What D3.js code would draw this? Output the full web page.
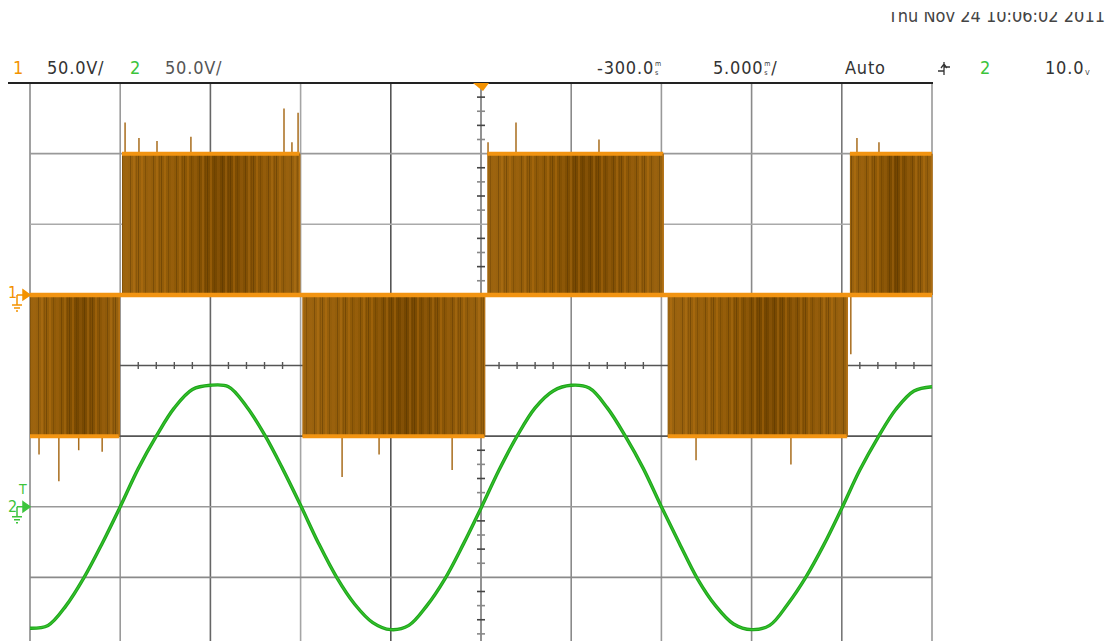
<!DOCTYPE html>
<html><head><meta charset="utf-8">
<script src="https://cdnjs.cloudflare.com/ajax/libs/d3/7.8.5/d3.min.js"></script>
<style>
html,body{margin:0;padding:0;background:#fff;}
svg{display:block;}
text{font-family:'DejaVu Sans Condensed','DejaVu Sans',sans-serif;}
</style></head>
<body><svg id="c" width="1107" height="641"></svg>
<script>
// ---- data (time in ms relative to screen centre, volts) ----
const timeDivTicks = [-25,-20,-15,-10,-5,0,5,10,15,20,25];
const voltDivTicks = [-4,-3,-2,-1,0,1,2,3,4];

// channel 1: PWM bursts (start ms, end ms, level V)
const ch1SegStart = [-25, -19.9, -9.9, 0.35, 10.35, 20.45];
const ch1SegEnd   = [-20.05, -10.05, 0.2, 10.1, 20.3, 25];
const ch1SegLevel = [-100, 100, -100, 100, -100, 100];
// channel 1 glitch spikes: time ms, from V, to V
const ch1SpikeTime = [-19.73,-18.96,-17.96,-16.08,-10.92,-10.48,-10.14,0.39,1.94,6.54,20.84,22.06,
                      -24.5,-23.4,-22.3,-21.0,-7.7,-5.65,-1.6,11.92,17.18,20.5];
const ch1SpikeFrom = [100,100,100,100,100,100,100,100,100,100,100,100,
                      -100,-100,-100,-100,-100,-100,-100,-100,-100,0];
const ch1SpikeTo   = [122,111,109,112,132,108,129,108,122,110,111,108,
                      -113,-132,-110,-111,-129,-113,-124,-117,-120,-42];

// channel 2: sine, read every 1 ms
const ch2Time = [-25,-24,-23,-22,-21,-20,-19,-18,-17,-16,-15,-14,-13,-12,-11,-10,-9,-8,-7,-6,-5,-4,-3,-2,-1,
                 0,1,2,3,4,5,6,7,8,9,10,11,12,13,14,15,16,17,18,19,20,21,22,23,24,25];
const ch2Volts = [-86,-84,-70,-50,-26,0,27,50,70,83,86,85,71,51,27,1,-26,-50,-69,-82,-87,-84,-70,-51,-27,
                  -1,26,50,70,82,86,84,70,50,27,0,-26,-51,-70,-83,-87,-84,-69,-50,-27,-1,26,49,69,82,85];

// header texts
const ch1Scale = "50.0V/";
const ch2Scale = "50.0V/";
const delayText = "-300.0";
const timebaseText = "5.000";
const trigMode = "Auto";
const trigSource = "2";
const trigLevel = "10.0";
const dateText = "Thu Nov 24 10:06:02 2011";

// ---- layout ----
const svg = d3.select("#c");
const L = 30, R = 932, T = 83, B = 648;
const x = d3.scaleLinear().domain([-25,25]).range([L,R]);
const yDiv = d3.scaleLinear().domain([-4,4]).range([B,T]);
const y1 = d3.scaleLinear().domain([-250,150]).range([B,T]); // ch1: 50V/div, offset +1 div
const y2 = d3.scaleLinear().domain([-100,300]).range([B,T]); // ch2: 50V/div, offset -2 div

const defs = svg.append("defs");
const pat = defs.append("pattern").attr("id","streaks").attr("patternUnits","userSpaceOnUse")
  .attr("width",23).attr("height",10);
[[0,1,"#4a2c00",0.4],[3,2,"#c27812",0.35],[7,1,"#5a3500",0.35],[10,3,"#a86812",0.3],[15,1,"#3f2500",0.3],[18,2,"#c8801c",0.3],[21,1,"#5a3500",0.25]]
 .forEach(([px,w,c,o])=>pat.append("rect").attr("x",px).attr("y",0).attr("width",w).attr("height",10).attr("fill",c).attr("opacity",o));
const grad = defs.append("linearGradient").attr("id","burst").attr("x1","0").attr("x2","1").attr("y1","0").attr("y2","0");
grad.append("stop").attr("offset","0").attr("stop-color","#9c640f");
grad.append("stop").attr("offset","0.35").attr("stop-color","#8d5806");
grad.append("stop").attr("offset","0.55").attr("stop-color","#744600");
grad.append("stop").attr("offset","0.8").attr("stop-color","#8c5707");
grad.append("stop").attr("offset","1").attr("stop-color","#98620f");
defs.append("clipPath").attr("id","dateclip").append("rect").attr("x",0).attr("y",12).attr("width",1107).attr("height",30);

// ---- grid ----
const vShade = ["#8a8a8a","#9a9a9a","#666","#a5a5a5","#555","#777","#8a8a8a","#999","#8a8a8a","#777","#999"];
const hShade = {"-4":"#999","-3":"#8a8a8a","-2":"#999","-1":"#555","0":"#555","1":"#999","2":"#aaa","3":"#999","4":"#222"};
const grid = svg.append("g");
grid.selectAll("line.v").data(timeDivTicks).join("line").attr("class","v")
  .attr("x1",d=>x(d)).attr("x2",d=>x(d)).attr("y1",T).attr("y2",B)
  .attr("stroke",(d,i)=>vShade[i]).attr("stroke-width",1.6);
grid.selectAll("line.h").data(voltDivTicks.filter(d=>d<4)).join("line").attr("class","h")
  .attr("x1",L).attr("x2",R).attr("y1",d=>yDiv(d)).attr("y2",d=>yDiv(d))
  .attr("stroke",d=>hShade[d]).attr("stroke-width",1.6);
// top border
svg.append("line").attr("x1",8).attr("x2",R+1).attr("y1",T).attr("y2",T).attr("stroke","#222").attr("stroke-width",2.2);

// centre-line minor ticks
const minorT = d3.range(-25,25.01,1);
grid.selectAll("line.mt").data(minorT.filter(d=>d%5!==0)).join("line").attr("class","mt")
  .attr("x1",d=>x(d)).attr("x2",d=>x(d)).attr("y1",yDiv(0)-3.5).attr("y2",yDiv(0)+3.5)
  .attr("stroke","#555").attr("stroke-width",1.4);
const minorV = d3.range(-4,4.001,0.2).filter(d=>Math.abs(d-Math.round(d))>0.01);
grid.selectAll("line.mv").data(minorV).join("line").attr("class","mv")
  .attr("x1",x(0)-4).attr("x2",x(0)+4).attr("y1",d=>yDiv(d)).attr("y2",d=>yDiv(d))
  .attr("stroke",(d,i)=>i%2?"#444":"#888").attr("stroke-width",1.6);

// ---- channel 1 PWM ----
const segs = ch1SegStart.map((s,i)=>({s, e:ch1SegEnd[i], v:ch1SegLevel[i]}));
const g1 = svg.append("g");
g1.selectAll("rect.b").data(segs).join("rect").attr("class","b")
  .attr("x",d=>x(d.s)).attr("width",d=>x(d.e)-x(d.s))
  .attr("y",d=>Math.min(y1(d.v),y1(0))).attr("height",d=>Math.abs(y1(d.v)-y1(0)))
  .attr("fill","url(#burst)");
g1.selectAll("rect.s").data(segs).join("rect").attr("class","s")
  .attr("x",d=>x(d.s)).attr("width",d=>x(d.e)-x(d.s))
  .attr("y",d=>Math.min(y1(d.v),y1(0))).attr("height",d=>Math.abs(y1(d.v)-y1(0)))
  .attr("fill","url(#streaks)");
// spikes
const spikes = ch1SpikeTime.map((t,i)=>({t, a:ch1SpikeFrom[i], b:ch1SpikeTo[i]}));
g1.selectAll("line.sp").data(spikes).join("line").attr("class","sp")
  .attr("x1",d=>x(d.t)).attr("x2",d=>x(d.t)).attr("y1",d=>y1(d.a)).attr("y2",d=>y1(d.b))
  .attr("stroke","#a86c1c").attr("stroke-width",1.5);
// level edges
g1.selectAll("line.lv").data(segs).join("line").attr("class","lv")
  .attr("x1",d=>x(d.s)).attr("x2",d=>x(d.e)).attr("y1",d=>y1(d.v)).attr("y2",d=>y1(d.v))
  .attr("stroke","#f29412").attr("stroke-width",4);
g1.selectAll("line.ed").data(segs).join("line").attr("class","ed")
  .attr("x1",d=>x(d.e)).attr("x2",d=>x(d.e)).attr("y1",d=>y1(d.v)).attr("y2",y1(0))
  .attr("stroke","#b27014").attr("stroke-width",1.5);
// zero line
g1.append("line").attr("x1",L).attr("x2",R).attr("y1",y1(0)).attr("y2",y1(0))
  .attr("stroke","#f29412").attr("stroke-width",4.5);

// ---- channel 2 sine ----
const pts = ch2Time.map((t,i)=>[t,ch2Volts[i]]);
const sineLine = d3.line().x(d=>x(d[0])).y(d=>y2(d[1])).curve(d3.curveCatmullRom);
svg.append("path").datum(pts).attr("d",sineLine)
  .attr("fill","none").attr("stroke","#1ea51a").attr("stroke-width",3.4).attr("stroke-linejoin","round");
svg.append("path").datum(pts).attr("d",sineLine)
  .attr("fill","none").attr("stroke","#36c22e").attr("stroke-width",1.2);

// ---- markers ----
const orange = "#f39200", green = "#3cc43c";
// ch1 marker
svg.append("text").attr("x",8).attr("y",y1(0)+3).attr("fill",orange).attr("font-size",16).text("1");
svg.append("path").attr("d",`M17,${y1(0)} H23 M23,${y1(0)-5} L30,${y1(0)} L23,${y1(0)+5} Z M17,${y1(0)} V${y1(0)+10} M12,${y1(0)+10} H22 M14,${y1(0)+13} H20 M16,${y1(0)+16} H18`)
  .attr("stroke",orange).attr("fill",orange).attr("stroke-width",1.5);
// ch2 marker
svg.append("text").attr("x",19).attr("y",y2(0)-13).attr("fill",green).attr("font-size",14).text("T");
svg.append("text").attr("x",8).attr("y",y2(0)+5).attr("fill",green).attr("font-size",16).text("2");
svg.append("path").attr("d",`M17,${y2(0)} H23 M23,${y2(0)-5} L30,${y2(0)} L23,${y2(0)+5} Z M17,${y2(0)} V${y2(0)+10} M12,${y2(0)+10} H22 M14,${y2(0)+13} H20 M16,${y2(0)+16} H18`)
  .attr("stroke",green).attr("fill",green).attr("stroke-width",1.5);
// trigger position marker
svg.append("path").attr("d",`M${x(0)-8},${T} L${x(0)+8},${T} L${x(0)+2},${T+8} L${x(0)-2},${T+5} Z`).attr("fill",orange);

// ---- header ----
const hy = 74, hfs = 18;
const hdr = svg.append("g").attr("font-size",hfs).attr("letter-spacing",0.8);
hdr.append("text").attr("x",13).attr("y",hy).attr("fill",orange).text("1");
hdr.append("text").attr("x",47).attr("y",hy).attr("fill","#333").text(ch1Scale);
hdr.append("text").attr("x",130).attr("y",hy).attr("fill",green).text("2");
hdr.append("text").attr("x",165).attr("y",hy).attr("fill","#555").text(ch2Scale);
function unitText(xp, main, unit1, unit2, slash){
  const t = hdr.append("text").attr("x",xp).attr("y",hy).attr("fill","#333").text(main);
  const w = t.node().getComputedTextLength();
  if(unit1) hdr.append("text").attr("x",xp+w+1).attr("y",hy-8).attr("font-size",7).attr("fill","#333").attr("letter-spacing",0).text(unit1);
  hdr.append("text").attr("x",xp+w+1).attr("y",hy+1).attr("font-size",7).attr("fill","#333").attr("letter-spacing",0).text(unit2);
  if(slash) hdr.append("text").attr("x",xp+w+8).attr("y",hy).attr("fill","#333").text("/");
}
unitText(597, delayText, "m", "s", false);
unitText(713, timebaseText, "m", "s", true);
hdr.append("text").attr("x",845).attr("y",hy).attr("fill","#333").text(trigMode);
svg.append("path").attr("d",`M938,${hy-3} H944 M944,${hy+1} V${hy-12} M944,${hy-7} H950 M941,${hy-6} L944,${hy-10} L947,${hy-6}`)
  .attr("stroke","#333").attr("fill","none").attr("stroke-width",1.3);
hdr.append("text").attr("x",980).attr("y",hy).attr("fill",green).text(trigSource);
unitText(1045, trigLevel, "", "V", false);
svg.append("text").attr("x",1105).attr("y",22).attr("text-anchor","end").attr("font-size",18)
  .attr("fill","#444").attr("clip-path","url(#dateclip)").attr("letter-spacing",0).text(dateText);
</script></body></html>
